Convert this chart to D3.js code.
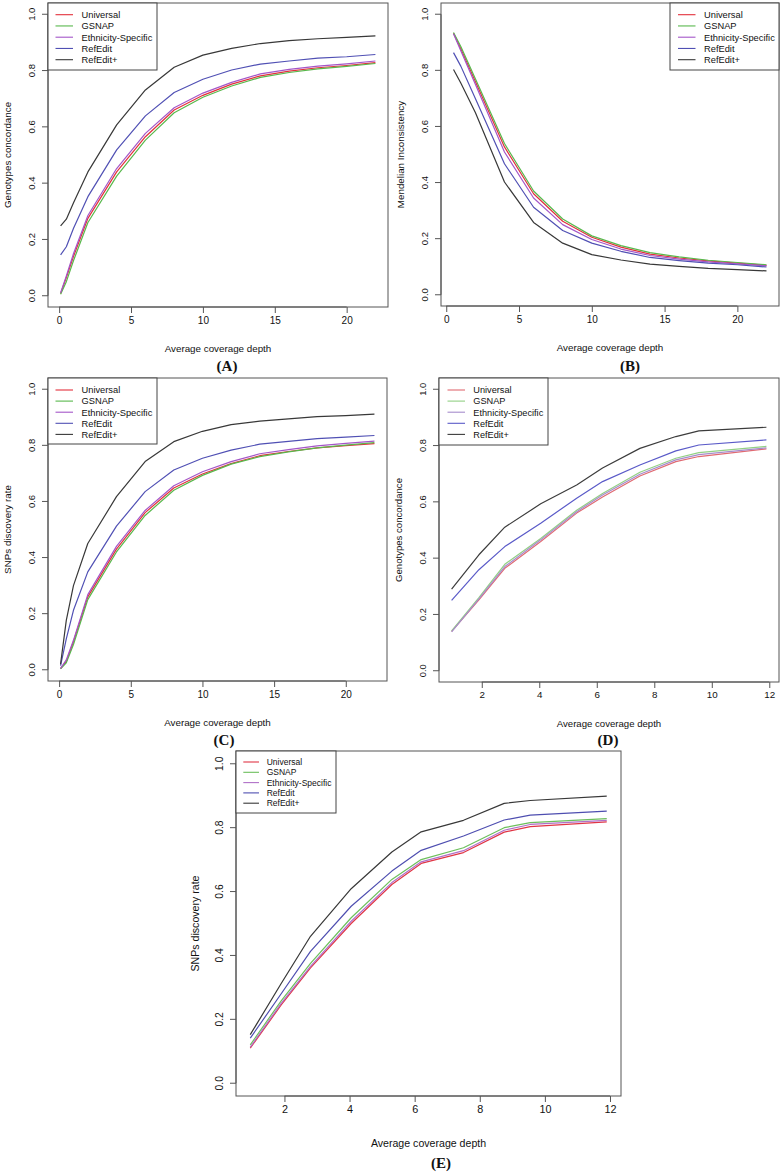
<!DOCTYPE html>
<html>
<head>
<meta charset="utf-8">
<script src="https://cdn.jsdelivr.net/npm/d3@7"></script>
<style>
  html, body { margin: 0; padding: 0; background: #fff; }
  svg { display: block; }
  text { font-family: "Liberation Sans", Arial, Helvetica, sans-serif; fill: #111; }
  .plabel { font-family: "Liberation Serif", "Times New Roman", serif; font-weight: bold; }
</style>
</head>
<body>
<svg id="chart" width="782" height="1173"></svg>
<script>
// ---------------- DATA ----------------
const seriesNames = ["Universal", "GSNAP", "Ethnicity-Specific", "RefEdit", "RefEdit+"];

const depthAC = [0.1, 0.5, 1, 2, 4, 6, 8, 10, 12, 14, 16, 18, 20, 22];
const depthB  = [0.5, 1, 2, 4, 6, 8, 10, 12, 14, 16, 18, 20, 22];
const depthDE = [0.95, 1.9, 2.8, 4.05, 5.3, 6.2, 7.5, 8.75, 9.55, 11.9];

const xTicksAC = [0, 5, 10, 15, 20];
const xTicksDE = [2, 4, 6, 8, 10, 12];
const yTicks = [0, 0.2, 0.4, 0.6, 0.8, 1.0];
const yTickLabels = ["0.0", "0.2", "0.4", "0.6", "0.8", "1.0"];

// (A) Genotypes concordance
const A_universal   = [0.008, 0.065, 0.14, 0.275, 0.44, 0.565, 0.66, 0.712, 0.752, 0.781, 0.798, 0.81, 0.818, 0.828];
const A_gsnap       = [0.005, 0.05, 0.125, 0.26, 0.425, 0.553, 0.65, 0.705, 0.745, 0.776, 0.793, 0.806, 0.815, 0.825];
const A_ethnic      = [0.01, 0.07, 0.15, 0.285, 0.452, 0.577, 0.668, 0.72, 0.758, 0.788, 0.804, 0.816, 0.824, 0.834];
const A_refedit     = [0.145, 0.174, 0.24, 0.352, 0.518, 0.639, 0.722, 0.769, 0.802, 0.823, 0.834, 0.844, 0.849, 0.857];
const A_refeditPlus = [0.248, 0.272, 0.33, 0.44, 0.607, 0.731, 0.812, 0.855, 0.879, 0.896, 0.906, 0.913, 0.918, 0.923];

// (B) Mendelian Inconsistency
const B_universal   = [0.932, 0.877, 0.76, 0.527, 0.36, 0.262, 0.205, 0.17, 0.145, 0.131, 0.121, 0.113, 0.105];
const B_gsnap       = [0.935, 0.885, 0.77, 0.539, 0.37, 0.27, 0.21, 0.175, 0.15, 0.135, 0.123, 0.115, 0.107];
const B_ethnic      = [0.93, 0.87, 0.75, 0.509, 0.345, 0.25, 0.197, 0.163, 0.14, 0.127, 0.117, 0.11, 0.103];
const B_refedit     = [0.863, 0.815, 0.70, 0.467, 0.312, 0.229, 0.184, 0.155, 0.133, 0.122, 0.113, 0.107, 0.099];
const B_refeditPlus = [0.803, 0.755, 0.65, 0.402, 0.258, 0.184, 0.143, 0.124, 0.109, 0.101, 0.094, 0.09, 0.085];

// (C) SNPs discovery rate
const C_universal   = [0.004, 0.03, 0.1, 0.26, 0.43, 0.56, 0.648, 0.698, 0.735, 0.763, 0.778, 0.791, 0.799, 0.806];
const C_gsnap       = [0.003, 0.025, 0.09, 0.25, 0.42, 0.55, 0.64, 0.693, 0.733, 0.76, 0.777, 0.791, 0.801, 0.81];
const C_ethnic      = [0.005, 0.035, 0.105, 0.268, 0.44, 0.568, 0.656, 0.706, 0.742, 0.77, 0.785, 0.798, 0.807, 0.815];
const C_refedit     = [0.015, 0.11, 0.212, 0.349, 0.512, 0.635, 0.712, 0.754, 0.783, 0.804, 0.814, 0.824, 0.829, 0.835];
const C_refeditPlus = [0.02, 0.176, 0.30, 0.45, 0.617, 0.742, 0.813, 0.85, 0.874, 0.886, 0.894, 0.902, 0.906, 0.911];

// (D) Genotypes concordance
const D_universal   = [0.14, 0.252, 0.364, 0.459, 0.56, 0.617, 0.692, 0.743, 0.761, 0.788];
const D_gsnap       = [0.142, 0.26, 0.378, 0.47, 0.57, 0.63, 0.705, 0.755, 0.775, 0.797];
const D_ethnic      = [0.138, 0.255, 0.37, 0.465, 0.565, 0.624, 0.698, 0.749, 0.768, 0.792];
const D_refedit     = [0.25, 0.359, 0.441, 0.524, 0.613, 0.672, 0.731, 0.781, 0.802, 0.82];
const D_refeditPlus = [0.29, 0.412, 0.51, 0.593, 0.66, 0.72, 0.79, 0.832, 0.852, 0.865];

// (E) SNPs discovery rate
const E_universal   = [0.11, 0.245, 0.361, 0.5, 0.622, 0.688, 0.722, 0.786, 0.803, 0.818];
const E_gsnap       = [0.12, 0.258, 0.375, 0.518, 0.638, 0.7, 0.737, 0.8, 0.816, 0.828];
const E_ethnic      = [0.113, 0.25, 0.366, 0.507, 0.628, 0.693, 0.728, 0.792, 0.81, 0.823];
const E_refedit     = [0.141, 0.28, 0.413, 0.554, 0.664, 0.729, 0.774, 0.824, 0.839, 0.852];
const E_refeditPlus = [0.152, 0.312, 0.46, 0.609, 0.724, 0.787, 0.823, 0.876, 0.885, 0.899];

// ---------------- STYLE / LAYOUT ----------------
const colorsMain = ["#e3303c", "#58b84c", "#a456c8", "#5050b4", "#383838"];
const colorsD    = ["#e06a72", "#92d084", "#a68ccc", "#5a5ac8", "#3c3c3c"];
const colorsE    = ["#e03545", "#6cbf5c", "#b070c8", "#4e4eb0", "#383838"];

const panels = [
  { id: "(A)", yTitle: "Genotypes concordance", x: depthAC, xTicks: xTicksAC,
    series: [A_universal, A_gsnap, A_ethnic, A_refedit, A_refeditPlus], colors: colorsMain,
    box: { l: 48, r: 388, t: 3, b: 307 }, fs: 10, legendFs: 9.3,
    legend: { l: 48, t: 3, w: 109, h: 67, y0: 14.7, step: 11.25, lx1: 7.5, lx2: 25, tx: 33.5 },
    lab: { x: 227, y: 371 } },
  { id: "(B)", yTitle: "Mendelian Inconsistency", x: depthB, xTicks: xTicksAC,
    series: [B_universal, B_gsnap, B_ethnic, B_refedit, B_refeditPlus], colors: colorsMain,
    box: { l: 441, r: 779, t: 3, b: 306 }, fs: 10, legendFs: 9.3,
    legend: { l: 670, t: 3, w: 109, h: 67, y0: 14.7, step: 11.25, lx1: 8, lx2: 25.5, tx: 34 },
    lab: { x: 630, y: 371 } },
  { id: "(C)", yTitle: "SNPs discovery rate", x: depthAC, xTicks: xTicksAC,
    series: [C_universal, C_gsnap, C_ethnic, C_refedit, C_refeditPlus], colors: colorsMain,
    box: { l: 48, r: 387, t: 378, b: 681 }, fs: 10, legendFs: 9.3,
    legend: { l: 48, t: 378, w: 109, h: 66, y0: 390, step: 11.1, lx1: 7.5, lx2: 25, tx: 33.5 },
    lab: { x: 224, y: 745 } },
  { id: "(D)", yTitle: "Genotypes concordance", x: depthDE, xTicks: xTicksDE,
    series: [D_universal, D_gsnap, D_ethnic, D_refedit, D_refeditPlus], colors: colorsD,
    box: { l: 439, r: 779, t: 378, b: 682 }, fs: 9.8, legendFs: 9.2,
    legend: { l: 439, t: 378, w: 109, h: 67, y0: 390, step: 11.1, lx1: 8.5, lx2: 26, tx: 34.3 },
    lab: { x: 608, y: 745 } },
  { id: "(E)", yTitle: "SNPs discovery rate", x: depthDE, xTicks: xTicksDE,
    series: [E_universal, E_gsnap, E_ethnic, E_refedit, E_refeditPlus], colors: colorsE,
    box: { l: 236, r: 621, t: 751, b: 1096 }, fs: 10.8, legendFs: 8.5,
    legend: { l: 236, t: 751, w: 100, h: 62, y0: 762, step: 10.3, lx1: 7.3, lx2: 23, tx: 30.7 },
    lab: { x: 441, y: 1168 } }
];

const svg = d3.select("#chart");

panels.forEach(p => {
  const g = svg.append("g");
  const B = p.box;
  const ext = d3.extent(p.x);
  const pad = (ext[1] - ext[0]) * 0.04;
  const x = d3.scaleLinear().domain([ext[0] - pad, ext[1] + pad]).range([B.l, B.r]);
  const y = d3.scaleLinear().domain([-0.04, 1.04]).range([B.b, B.t]);

  // lines
  const line = d3.line().x(d => x(d[0])).y(d => y(d[1]));
  p.series.forEach((vals, i) => {
    const pts = p.x.map((xv, j) => [xv, vals[j]]);
    g.append("path").attr("d", line(pts))
      .attr("fill", "none").attr("stroke", p.colors[i]).attr("stroke-width", 1.2)
      .attr("stroke-linejoin", "round");
  });

  // box
  g.append("rect").attr("x", B.l).attr("y", B.t).attr("width", B.r - B.l).attr("height", B.b - B.t)
    .attr("fill", "none").attr("stroke", "#555").attr("stroke-width", 1);

  // x axis
  const xAxis = d3.axisBottom(x).tickValues(p.xTicks).tickSize(6).tickPadding(3.5)
    .tickFormat(d3.format("d"));
  const xa = g.append("g").attr("transform", `translate(0,${B.b})`).call(xAxis);
  xa.select(".domain").attr("stroke", "#555")
    .attr("d", `M${x(p.xTicks[0])},0H${x(p.xTicks[p.xTicks.length - 1])}`);
  xa.selectAll(".tick line").attr("stroke", "#555");
  xa.selectAll(".tick text").attr("font-size", p.fs).attr("fill", "#111")
    .attr("font-family", "Liberation Sans, Arial, sans-serif");

  // y axis (R style, labels parallel to axis)
  const ya = g.append("g").attr("transform", `translate(${B.l},0)`);
  ya.append("path").attr("d", `M0,${y(0)}V${y(1)}`).attr("stroke", "#555").attr("fill", "none");
  yTicks.forEach((t, i) => {
    ya.append("line").attr("x1", 0).attr("x2", -6).attr("y1", y(t)).attr("y2", y(t)).attr("stroke", "#555");
    ya.append("text").attr("transform", `translate(-12.8,${y(t)}) rotate(-90)`)
      .attr("text-anchor", "middle").attr("font-size", p.fs - 0.5).text(yTickLabels[i]);
  });

  // axis titles
  g.append("text").attr("x", (B.l + B.r) / 2).attr("y", B.b + (p.id === "(E)" ? 50.5 : 45))
    .attr("text-anchor", "middle").attr("font-size", p.fs - 0.2).text("Average coverage depth");
  g.append("text").attr("transform", `translate(${B.l - 37},${(B.t + B.b) / 2}) rotate(-90)`)
    .attr("text-anchor", "middle").attr("font-size", p.fs - 0.2).text(p.yTitle);

  // legend
  const L = p.legend;
  const lg = g.append("g");
  lg.append("rect").attr("x", L.l).attr("y", L.t).attr("width", L.w).attr("height", L.h)
    .attr("fill", "#fff").attr("stroke", "#444").attr("stroke-width", 1);
  seriesNames.forEach((name, i) => {
    const yy = L.y0 + i * L.step;
    lg.append("line").attr("x1", L.l + L.lx1).attr("x2", L.l + L.lx2).attr("y1", yy).attr("y2", yy)
      .attr("stroke", p.colors[i]).attr("stroke-width", 1.1);
    lg.append("text").attr("x", L.l + L.tx).attr("y", yy + p.legendFs * 0.36)
      .attr("font-size", p.legendFs).text(name);
  });

  // panel label
  g.append("text").attr("class", "plabel").attr("x", p.lab.x).attr("y", p.lab.y)
    .attr("text-anchor", "middle").attr("font-size", 15).text(p.id);
});
</script>
</body>
</html>
